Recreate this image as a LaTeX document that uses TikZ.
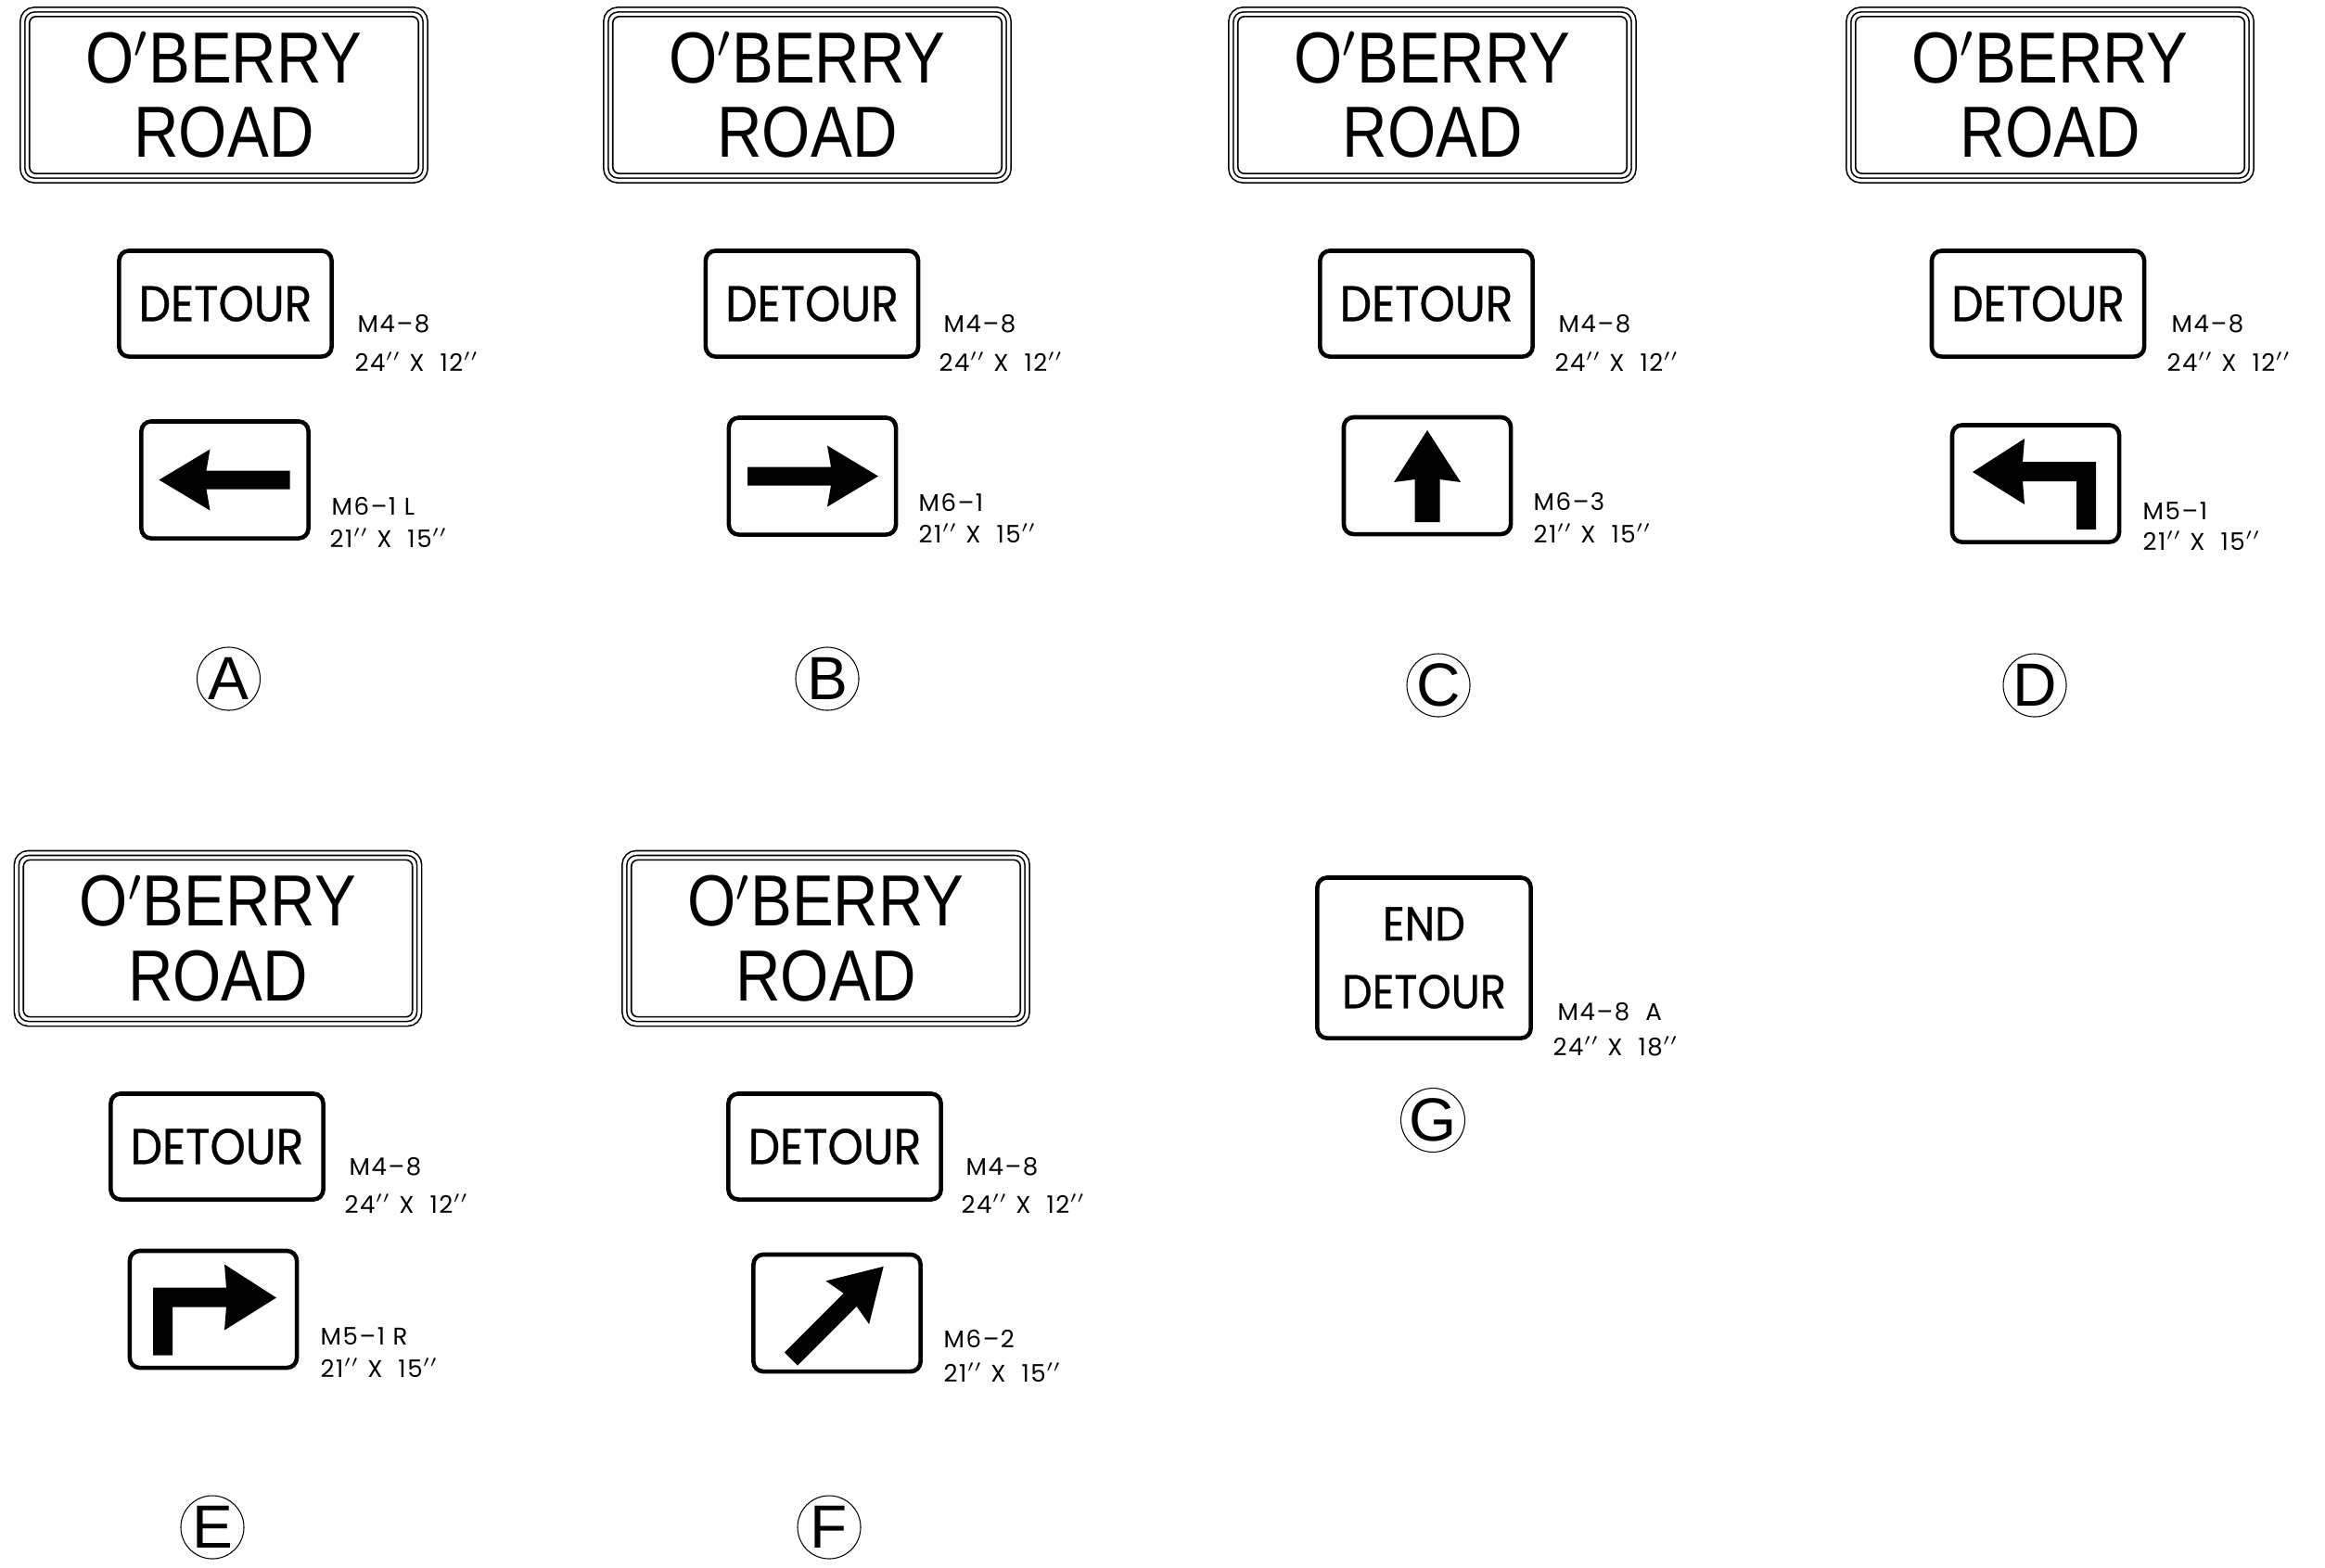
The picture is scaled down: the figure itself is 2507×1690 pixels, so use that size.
\documentclass[tikz,border=0pt]{standalone}
\usepackage{fontspec}
\setmainfont{Liberation Sans}
\newfontfamily\namefont[FakeStretch=0.86]{Liberation Sans}
\newfontfamily\detourfont[FakeStretch=0.9,FakeBold=0.6]{Poppins}
\newfontfamily\codefont[LetterSpace=6]{Poppins}
\usepackage{tikz}
\tikzset{roadsign/.style={draw,double,double distance=0.97pt,line width=0.45pt,rounded corners=3.6pt,inner sep=0pt,outer sep=0pt,minimum width=4.34cm,minimum height=1.84cm,align=center,font=\namefont\fontsize{22.2}{22.8}\selectfont},
plate/.style={draw,line width=1.3pt,rounded corners=3pt,inner sep=0pt,outer sep=0pt,minimum width=2.29cm,minimum height=1.14cm,font=\detourfont\fontsize{15.4}{20.8}\selectfont},
arrowplate/.style={draw,line width=1.3pt,rounded corners=3pt,inner sep=0pt,outer sep=0pt,minimum width=1.80cm,minimum height=1.26cm},
lbl/.style={anchor=base west,inner sep=0pt,font=\codefont\fontsize{7.4}{8}\selectfont},
tag/.style={circle,draw,line width=0.3pt,inner sep=0pt,minimum size=0.68cm,font=\fontsize{18.7}{20}\selectfont}}

\begin{document}
\begin{tikzpicture}[x=0.01cm, y=-0.01cm]
\useasboundingbox (0,0) rectangle (2507,1690);
% street name signs
\node[roadsign] (oa) at (241.5,102.5) {O$'$BERRY\\ROAD};
\node[roadsign] (ob) at (870.5,102.5) {O$'$BERRY\\ROAD};
\node[roadsign] (oc) at (1544.5,102.5) {O$'$BERRY\\ROAD};
\node[roadsign] (od) at (2210.5,102.5) {O$'$BERRY\\ROAD};
\node[roadsign] (oe) at (235,1012) {O$'$BERRY\\ROAD};
\node[roadsign] (of) at (890.5,1012) {O$'$BERRY\\ROAD};
\foreach \s in {oa,ob,oc,od,oe,of}
  \draw[line width=0.45pt, rounded corners=2pt] ([shift={(2.1pt,2.1pt)}]\s.south west) rectangle ([shift={(-2.1pt,-2.1pt)}]\s.north east);
% detour plates
\node[plate] (da) at (243,327.5) {DETOUR};
\node[plate] (db) at (875.5,327.5) {DETOUR};
\node[plate] (dc) at (1538,327.5) {DETOUR};
\node[plate] (dd) at (2197.5,327.5) {DETOUR};
\node[plate] (de) at (234,1236.5) {DETOUR};
\node[plate] (df) at (900,1236.5) {DETOUR};
\node[plate, minimum width=2.30cm, minimum height=1.73cm, align=center, font=\detourfont\fontsize{14.6}{20.8}\selectfont] (dg) at (1535.5,1033) {END\\DETOUR};
\node[lbl] (ma) at (385,358) {M4–8};
\node[lbl] (sa) at (382,400) {24$''$ X\ \ 12$''$};
\node[lbl] (mb) at (1017,358) {M4–8};
\node[lbl] (sb) at (1012,400) {24$''$ X\ \ 12$''$};
\node[lbl] (mc) at (1680,358) {M4–8};
\node[lbl] (sc) at (1676,400) {24$''$ X\ \ 12$''$};
\node[lbl] (md) at (2341,358) {M4–8};
\node[lbl] (sd) at (2336,400) {24$''$ X\ \ 12$''$};
\node[lbl] (me) at (376,1267) {M4–8};
\node[lbl] (se) at (371,1308) {24$''$ X\ \ 12$''$};
\node[lbl] (mf) at (1041,1267) {M4–8};
\node[lbl] (sf) at (1036,1308) {24$''$ X\ \ 12$''$};
\node[lbl] (mg) at (1679,1100) {M4–8\ \ A};
\node[lbl] (sg) at (1674,1138) {24$''$ X\ \ 18$''$};
% arrow plates
\node[arrowplate] (pa) at (242.5,517.5) {};
\node[arrowplate] (pb) at (876,513.5) {};
\node[arrowplate] (pc) at (1539,513) {};
\node[arrowplate] (pd) at (2195,521.5) {};
\node[arrowplate] (pe) at (230,1412) {};
\node[arrowplate] (pf) at (902.5,1416) {};
\fill[shift={(pa.center)}, xscale=-1] (-70,-10) -- (20,-10) -- (16,-33) -- (71,0) -- (16,33) -- (20,10) -- (-70,10) -- cycle;
\fill[shift={(pb.center)}] (-70,-10) -- (20,-10) -- (16,-33) -- (71,0) -- (16,33) -- (20,10) -- (-70,10) -- cycle;
\fill[shift={(pc.center)}] (-13.5,50) -- (-13.5,4) -- (-36,7) -- (0,-49) -- (36,7) -- (13.5,4) -- (13.5,50) -- cycle;
\fill[shift={(pd.center)}] (-68,-12.5) -- (-12,-48.5) -- (-14,-23.5) -- (65,-23.5) -- (65,49.5) -- (44,49.5) -- (44,-2.5) -- (-14,-2.5) -- (-12,22.5) -- cycle;
\fill[shift={(pe.center)}, xscale=-1] (-68,-12.5) -- (-12,-48.5) -- (-14,-23.5) -- (65,-23.5) -- (65,49.5) -- (44,49.5) -- (44,-2.5) -- (-14,-2.5) -- (-12,22.5) -- cycle;
\fill[shift={(pf.center)}, rotate=45] (-70,-10) -- (20,-10) -- (16,-33) -- (71,0) -- (16,33) -- (20,10) -- (-70,10) -- cycle;
\node[lbl] (mpa) at (357,555) {M6–1\ L};
\node[lbl] (spa) at (355,590) {21$''$ X\ \ 15$''$};
\node[lbl] (mpb) at (990,551) {M6–1};
\node[lbl] (spb) at (990,585) {21$''$ X\ \ 15$''$};
\node[lbl] (mpc) at (1653,550) {M6–3};
\node[lbl] (spc) at (1653,585) {21$''$ X\ \ 15$''$};
\node[lbl] (mpd) at (2310,560) {M5–1};
\node[lbl] (spd) at (2310,593) {21$''$ X\ \ 15$''$};
\node[lbl] (mpe) at (345,1450) {M5–1\ R};
\node[lbl] (spe) at (345,1485) {21$''$ X\ \ 15$''$};
\node[lbl] (mpf) at (1017,1453) {M6–2};
\node[lbl] (spf) at (1017,1490) {21$''$ X\ \ 15$''$};
% letters
\node[tag] (ta) at (246.5,732) {A};
\node[tag] (tb) at (892,732) {B};
\node[tag] (tc) at (1551,739) {C};
\node[tag] (td) at (2194,739) {D};
\node[tag] (te) at (229,1647) {E};
\node[tag] (tf) at (894,1647) {F};
\node[tag] (tg) at (1545,1208) {G};
\end{tikzpicture}
\end{document}
